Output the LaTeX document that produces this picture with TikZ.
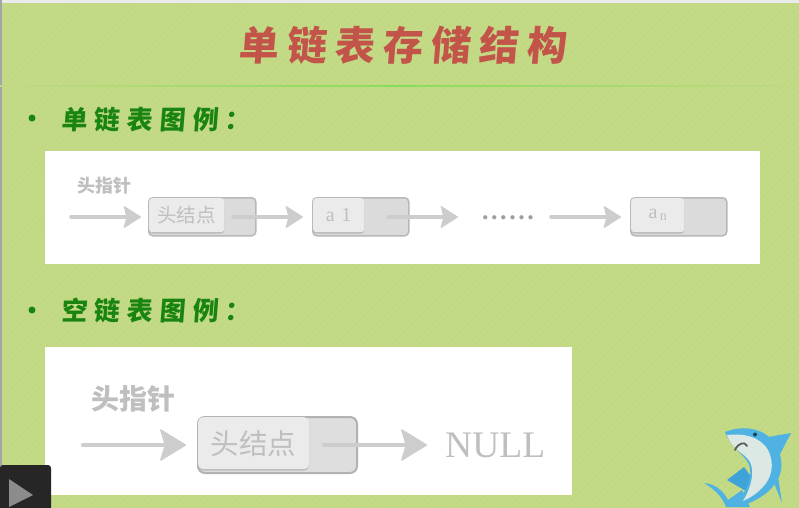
\documentclass[tikz,border=0pt]{standalone}
\usepackage{fontspec}
\usetikzlibrary{arrows.meta,shapes.geometric}
\newfontfamily\cjk{Noto Sans CJK SC}
\newfontfamily\cjkb[FakeSlant=0.08]{Noto Sans CJK SC}
\setmainfont{Liberation Serif}
\definecolor{bgg}{HTML}{C1D983}
\definecolor{bgs}{HTML}{C5DB89}
\definecolor{titlered}{HTML}{C2544A}
\definecolor{headg}{HTML}{1A8410}
\definecolor{gtext}{HTML}{BFBFBF}
\definecolor{garrow}{HTML}{CDCDCD}
\definecolor{sharkb}{HTML}{4FB2E3}
\definecolor{sharkd}{HTML}{3FA3DA}
\definecolor{sharkw}{HTML}{DCE8E4}
\tikzset{
  x=1pt,y=-1pt,
  listbox/.style={draw=black!28,line width=1.5pt,rounded corners=4pt,fill=black!14,inner sep=0pt,anchor=north west},
  listinner/.style={fill=black!8,rounded corners=3pt,inner sep=0pt,anchor=north west,preaction={fill=black!28,transform canvas={yshift=-1.3pt}}},
  bigbox/.style={draw=black!30,line width=2pt,rounded corners=7pt,fill=black!13,inner sep=0pt,anchor=north west},
  smallarrow/.style={draw=garrow,line width=3.5pt,line cap=round,-{Stealth[length=18pt,width=23pt,inset=3pt,line width=1pt,round,fill=garrow]}},
  bigarrow/.style={draw=garrow,line width=4.5pt,line cap=round,-{Stealth[length=27pt,width=33pt,inset=5pt,line width=1.5pt,round,fill=garrow]}},
  lbl/.style={text=gtext,inner sep=0pt,font=\cjk\bfseries},
  heading/.style={text=headg,inner sep=0pt,font=\cjkb\bfseries\fontsize{26}{26}\selectfont},
  panel/.style={fill=white,inner sep=0pt,anchor=north west}
}
\begin{document}
\begin{tikzpicture}
\useasboundingbox (0,0) rectangle (799,507);
% background
\fill[bgg] (-3,-3) rectangle (802,510);
\begin{scope}
\clip (-3,-3) rectangle (802,510);
\foreach \i in {0,7,...,1320}{\draw[bgs,line width=1.4pt] (\i,-3) -- (\i-513,510);}
\end{scope}
\fill[black!8] (0,0) rectangle (799,3);
\fill[black!35] (0,0) rectangle (1.5,507);
\shade[left color=bgg,right color=bgg,middle color=black!10!green!30!bgg] (0,85.2) rectangle (799,86.8);
% title
\node[inner sep=0pt,text=titlered,font=\cjkb\bfseries\fontsize{40}{40}\selectfont] (title) at (402,45) {\addfontfeature{LetterSpace=20}单链表存储结构};
% headings
\node[circle,fill=headg,minimum size=7pt,inner sep=0pt] (b1) at (32,118) {};
\node[heading,anchor=west] (h1) at (61,120) {\addfontfeature{LetterSpace=26}单链表图例：};
\node[circle,fill=headg,minimum size=7pt,inner sep=0pt] (b2) at (32,310) {};
\node[heading,anchor=west] (h2) at (61,311) {\addfontfeature{LetterSpace=26}空链表图例：};
% panels
\node[panel,minimum width=715pt,minimum height=113pt] (p1) at (45,151) {};
\node[panel,minimum width=527pt,minimum height=148pt] (p2) at (45,347) {};
% first list
\node[lbl,font=\cjk\bfseries\fontsize{18}{18}\selectfont] (hp1) at (104.5,186) {头指针};
\coordinate (s0) at (71,217);
\node[listbox,minimum width=107pt,minimum height=38pt] (n0) at (148,197) {};
\node[listinner,minimum width=75pt,minimum height=34pt,lbl,font=\cjk\fontsize{19.5}{19.5}\selectfont] (n0t) at (149,198) {\raisebox{-2pt}{头结点}};
\node[listbox,minimum width=96pt,minimum height=38pt] (n1) at (312,197) {};
\node[listinner,minimum width=51pt,minimum height=34pt,text=gtext,font=\fontsize{20}{20}\selectfont] (n1t) at (313,198) {\raisebox{-1.5pt}{a\,\,1}};
\node[text=black!38,inner sep=0pt,font=\bfseries\fontsize{26}{26}\selectfont] (dots) at (508,218) {\addfontfeature{LetterSpace=10}......};
\node[listbox,minimum width=96pt,minimum height=38pt] (n2) at (630,197) {};
\node[listinner,minimum width=53pt,minimum height=34pt,text=gtext,font=\fontsize{20}{20}\selectfont] (n2t) at (631,198) {\raisebox{-1.5pt}{a\raisebox{-2pt}{\fontsize{14}{14}\selectfont\,n}}};
\coordinate (c0) at (233,217);
\coordinate (c1) at (388,217);
\coordinate (e1) at (458,217);
\coordinate (d1) at (551,217);
\draw[smallarrow,shorten >=7pt] (s0) -- (n0.west |- s0);
\draw[smallarrow,shorten >=9pt] (c0) -- (n1.west |- c0);
\draw[smallarrow] (c1) -- (e1);
\draw[smallarrow,shorten >=9pt] (d1) -- (n2.west |- d1);
% second list
\node[lbl,font=\cjk\bfseries\fontsize{28}{28}\selectfont] (hp2) at (133.5,399) {头指针};
\coordinate (s2) at (83,445);
\node[bigbox,minimum width=159pt,minimum height=56pt] (n3) at (197,416) {};
\node[listinner,rounded corners=5pt,minimum width=111pt,minimum height=52pt,lbl,font=\cjk\fontsize{28.5}{28.5}\selectfont] (n3t) at (198,417) {\raisebox{-3pt}{头结点}};
\coordinate (c3) at (324,445);
\node[text=gtext,inner sep=0pt,anchor=west,font=\fontsize{37.5}{37.5}\selectfont] (null) at (445,445) {NULL};
\draw[bigarrow,shorten >=11pt] (s2) -- (n3.west |- s2);
\draw[bigarrow,shorten >=18pt] (c3) -- (null.west |- c3);
% shark
\begin{scope}
\clip (0,0) rectangle (799,507);
% tail
\fill[sharkb] (704,483) .. controls (716,484) and (724,492) .. (728,500) -- (742,490) -- (750,507) -- (726,507) .. controls (722,496) and (714,489) .. (704,483) -- cycle;
% pectoral fin
\fill[sharkd] (727,480) -- (744,467) -- (752,478) -- (746,491) -- cycle;
% ventral fin
\fill[sharkb] (772,478) -- (782,503) -- (777,470) -- cycle;
% dorsal fin
\fill[sharkb] (768,437) -- (791,433) -- (778,458) -- cycle;
% body
\fill[sharkb] (725,432) .. controls (742,425) and (762,428) .. (772,440) .. controls (784,455) and (784,472) .. (775,484) .. controls (766,496) and (752,503) .. (738,507) -- (733,507) .. controls (744,494) and (752,482) .. (750,468) .. controls (748,456) and (732,450) .. (725,432) -- cycle;
% belly
\fill[sharkw] (727,435) .. controls (742,433) and (760,436) .. (768,450) .. controls (775,464) and (772,478) .. (762,488) .. controls (756,494) and (750,498) .. (743,501) .. controls (751,488) and (755,472) .. (750,462) .. controls (745,453) and (732,450) .. (727,435) -- cycle;
% eye and mouth
\fill[black!60!sharkd] (755,434.5) circle[radius=2pt];
\draw[black!65,line width=1.8pt,line cap=round] (735,450) .. controls (738,443) and (745,441) .. (747,446);
\end{scope}
% player button
\fill[black!85,rounded corners=3pt] (0,465) rectangle (51,520);
\fill[black!45] (9,479) -- (33,495) -- (9,507) -- cycle;
\end{tikzpicture}
\end{document}
